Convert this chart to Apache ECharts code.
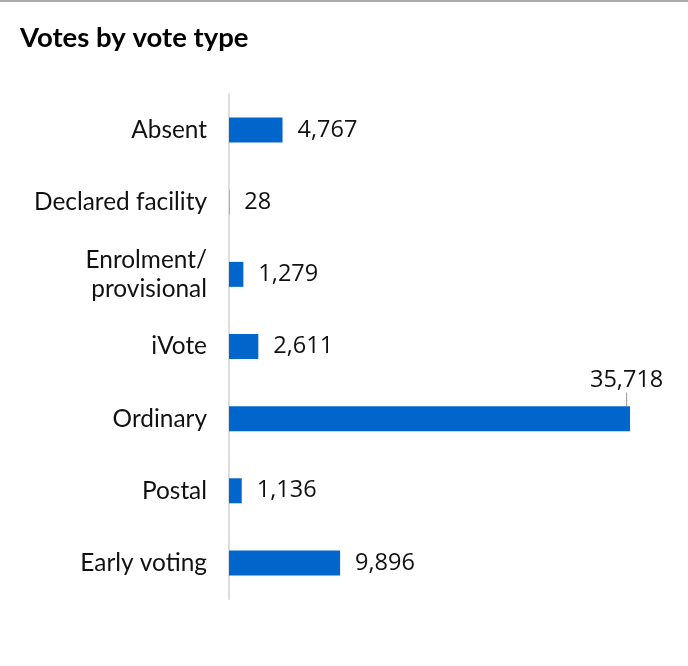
<!DOCTYPE html>
<html><head><meta charset="utf-8">
<script src="https://cdn.jsdelivr.net/npm/echarts@6/dist/echarts.min.js"></script>
<style>html,body{margin:0;padding:0;background:#fff}#c{width:688px;height:666px}</style>
</head><body><div id="c"></div>
<script>
const categories = ["Absent", "Declared facility", "Enrolment/\nprovisional", "iVote", "Ordinary", "Postal", "Early voting"];
const votes = [4767, 28, 1279, 2611, 35718, 1136, 9896];

const chart = echarts.init(document.getElementById('c'), null, {renderer: 'canvas'});
const seriesData = votes.map((v, i) => i === 4
  ? {value: v, labelLine: {show: true, lineStyle: {color: '#999', width: 1}}}
  : {value: v});
chart.setOption({
  animation: false,
  textStyle: {fontFamily: 'Lato'},
  title: {text: 'Votes by vote type', left: 15, top: 19,
    textStyle: {fontFamily: 'Lato', fontWeight: 'bold', fontSize: 27.5, color: '#000'}},
  graphic: [{type: 'rect', left: 0, top: 0, shape: {width: 688, height: 2}, style: {fill: '#aaa'}}],
  grid: {left: 229, right: 58, top: 94, bottom: 67, containLabel: false},
  xAxis: {type: 'value', min: 0, max: 35718, show: false},
  yAxis: {type: 'category', inverse: true, data: categories,
    axisLine: {show: true, lineStyle: {color: '#ddd', width: 2}},
    axisTick: {show: false},
    axisLabel: {margin: 22, fontSize: 24.4, color: '#111', fontFamily: 'Lato', lineHeight: 29}},
  series: [{type: 'bar', data: seriesData, barWidth: 25, itemStyle: {color: '#0066cc'},
    label: {show: true, position: 'right', distance: 15, fontSize: 23.5, color: '#111', fontFamily: 'Open Sans',
      formatter: p => p.value.toLocaleString('en-US')},
    labelLayout: p => p.dataIndex === 4 ? {dx: -55, dy: -38} : {}
  }]
});
</script></body></html>
